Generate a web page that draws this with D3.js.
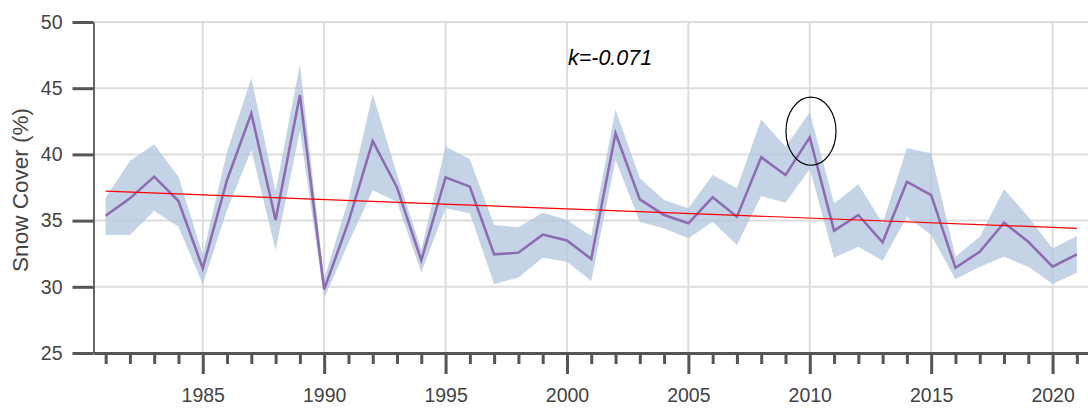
<!DOCTYPE html>
<html>
<head>
<meta charset="utf-8">
<script src="https://d3js.org/d3.v7.min.js"></script>
<style>
html,body{margin:0;padding:0;background:#fff;}
svg{display:block;}
</style>
</head>
<body>
<div id="chart"></div>
<script>
// ---- data ----
const years = d3.range(1981, 2022);
const meanCover = [35.37, 36.68, 38.32, 36.48, 31.4, 38.07, 43.1, 35.05, 44.49, 29.81,
  34.9, 41.0, 37.5, 32.0, 38.27, 37.56, 32.45, 32.58, 33.94, 33.5,
  32.1, 41.6, 36.6, 35.42, 34.8, 36.76, 35.3, 39.78, 38.44, 41.29,
  34.24, 35.42, 33.36, 37.94, 36.93, 31.44, 32.65, 34.84, 33.4, 31.52, 32.45];
const upperCover = [36.73, 39.5, 40.76, 38.32, 32.4, 40.2, 45.75, 37.2, 46.8, 30.6,
  36.6, 44.56, 38.5, 32.8, 40.6, 39.63, 34.67, 34.5, 35.6, 35.05,
  33.84, 43.4, 38.2, 36.55, 35.93, 38.44, 37.44, 42.65, 40.58, 43.18,
  36.3, 37.74, 34.8, 40.46, 40.08, 32.27, 33.78, 37.36, 35.3, 32.9, 33.84];
const lowerCover = [33.91, 33.91, 35.75, 34.54, 30.19, 35.8, 40.33, 32.78, 41.8, 29.13,
  33.3, 37.3, 36.4, 31.07, 35.93, 35.55, 30.2, 30.7, 32.2, 31.9,
  30.44, 39.58, 34.92, 34.4, 33.66, 34.92, 33.16, 36.86, 36.35, 38.9,
  32.2, 33.03, 31.97, 35.3, 33.91, 30.57, 31.52, 32.27, 31.52, 30.21, 31.07];
const trendYears = [1981, 2021];
const trendValues = [37.22, 34.42];
const yTicks = [25, 30, 35, 40, 45, 50];
const xMajorTicks = [1985, 1990, 1995, 2000, 2005, 2010, 2015, 2020];
const annotationText = "k=-0.071";
const annotationPos = [2000.04, 46.75];     // [year, value] of text start/baseline
const highlight = [2010.05, 41.75, 1.03, 2.57]; // ellipse: year, value, rx (years), ry (value)

// ---- layout ----
const W = 1088, H = 408;
const svg = d3.select("#chart").append("svg").attr("width", W).attr("height", H);
const x = d3.scaleLinear().domain([1980.5, 2021.5]).range([93.5, 1089]);
const y = d3.scaleLinear().domain([25, 50]).range([353, 22]);
const font = "'Liberation Sans', Arial, sans-serif";
const textColor = "#444";
const axisColor = "#555";

// grid
const grid = svg.append("g");
grid.selectAll("line.h").data(yTicks.filter(d => d > 25)).join("line")
  .attr("x1", x(1980.5)).attr("x2", W)
  .attr("y1", d => y(d)).attr("y2", d => y(d))
  .attr("stroke", "#dddddd").attr("stroke-width", 2);
grid.selectAll("line.v").data(xMajorTicks).join("line")
  .attr("x1", d => x(d)).attr("x2", d => x(d))
  .attr("y1", y(50)).attr("y2", y(25))
  .attr("stroke", "#dddddd").attr("stroke-width", 2);

const data = years.map((yr, i) => ({yr, m: meanCover[i], lo: lowerCover[i], hi: upperCover[i]}));

// band
svg.append("path").datum(data)
  .attr("d", d3.area().x(d => x(d.yr)).y0(d => y(d.lo)).y1(d => y(d.hi)))
  .attr("fill", "#b0c4de").attr("fill-opacity", 0.75);

// mean line
svg.append("path").datum(data)
  .attr("d", d3.line().x(d => x(d.yr)).y(d => y(d.m)))
  .attr("fill", "none").attr("stroke", "#8c6bb1").attr("stroke-width", 2.5)
  .attr("stroke-linejoin", "miter");

// trend line
svg.append("line")
  .attr("x1", x(trendYears[0])).attr("y1", y(trendValues[0]))
  .attr("x2", x(trendYears[1])).attr("y2", y(trendValues[1]))
  .attr("stroke", "red").attr("stroke-width", 1.2);

// ellipse
svg.append("ellipse")
  .attr("cx", x(highlight[0])).attr("cy", y(highlight[1]))
  .attr("rx", x(highlight[0] + highlight[2]) - x(highlight[0]))
  .attr("ry", y(highlight[1] - highlight[3]) - y(highlight[1]))
  .attr("fill", "none").attr("stroke", "#000").attr("stroke-width", 1.2);

// annotation text
svg.append("text")
  .attr("x", x(annotationPos[0])).attr("y", y(annotationPos[1]))
  .attr("font-family", font).attr("font-size", 21.5).attr("font-style", "italic")
  .attr("fill", "#000").text(annotationText);

// y axis
const yAxis = svg.append("g").attr("transform", `translate(${x(1980.5)},0)`)
  .call(d3.axisLeft(y).tickValues(yTicks).tickSize(21).tickSizeOuter(0).tickPadding(10));
yAxis.select(".domain").attr("stroke", "#666").attr("stroke-width", 2);
yAxis.selectAll(".tick line").attr("stroke", axisColor).attr("stroke-width", 3);
yAxis.selectAll(".tick text").attr("font-family", font).attr("font-size", 19.5).attr("fill", textColor);

// x axis minor
const xMinor = svg.append("g").attr("transform", `translate(0,${y(25)})`)
  .call(d3.axisBottom(x).tickValues(years.filter(d => d % 5 !== 0)).tickSize(11).tickSizeOuter(0).tickFormat(""));
xMinor.select(".domain").attr("stroke", axisColor).attr("stroke-width", 3);
xMinor.selectAll(".tick line").attr("stroke", axisColor).attr("stroke-width", 3);

// x axis major
const xMajor = svg.append("g").attr("transform", `translate(0,${y(25)})`)
  .call(d3.axisBottom(x).tickValues(xMajorTicks).tickSize(21).tickSizeOuter(0).tickPadding(14).tickFormat(d3.format("d")));
xMajor.select(".domain").remove();
xMajor.selectAll(".tick line").attr("stroke", axisColor).attr("stroke-width", 3);
xMajor.selectAll(".tick text").attr("font-family", font).attr("font-size", 19.5).attr("fill", textColor);

// y axis title
svg.append("text")
  .attr("transform", `translate(27.5,190) rotate(-90)`)
  .attr("text-anchor", "middle")
  .attr("font-family", font).attr("font-size", 22.5).attr("fill", textColor)
  .text("Snow Cover (%)");
</script>
</body>
</html>
